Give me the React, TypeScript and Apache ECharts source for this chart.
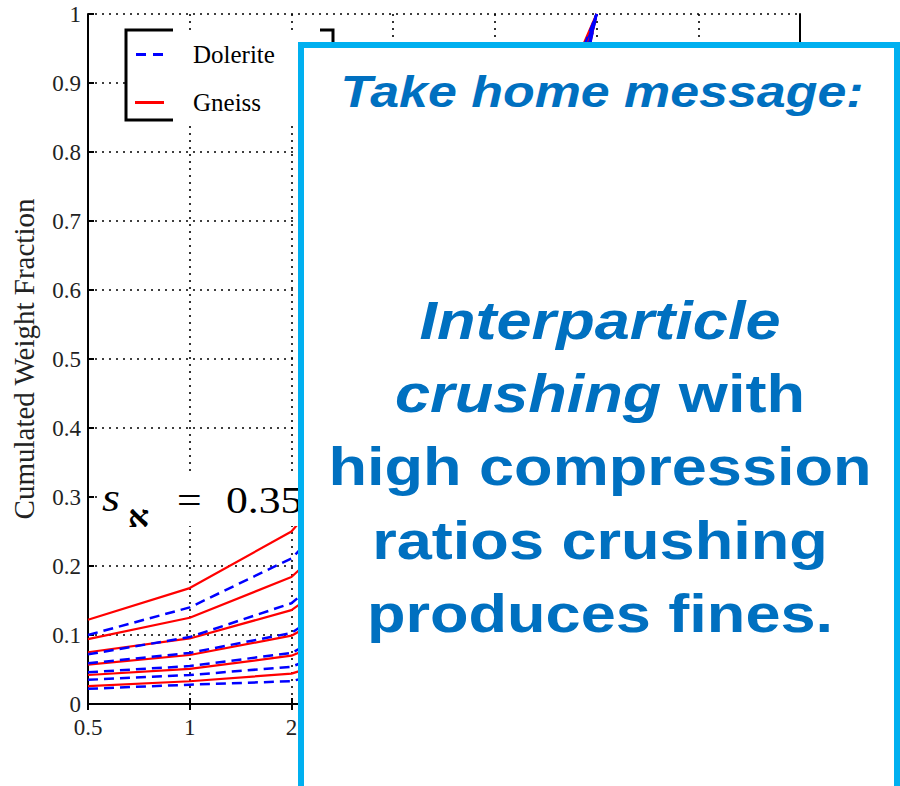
import React, { useEffect, useRef } from "react";
import * as echarts from "echarts";

const xValues = [0.5, 1, 2, 4, 8, 16];

const dolerite1 = [0.100, 0.140, 0.211, 0.36, 0.62, 1.0];
const dolerite2 = [0.072, 0.097, 0.146, 0.27, 0.55, 1.0];
const dolerite3 = [0.059, 0.074, 0.103, 0.20, 0.48, 1.0];
const dolerite4 = [0.046, 0.055, 0.074, 0.15, 0.42, 1.0];
const dolerite5 = [0.035, 0.042, 0.054, 0.11, 0.37, 1.0];
const dolerite6 = [0.022, 0.028, 0.033, 0.07, 0.32, 1.0];

const gneiss1 = [0.122, 0.168, 0.250, 0.42, 0.66, 1.0];
const gneiss2 = [0.094, 0.125, 0.184, 0.32, 0.58, 1.0];
const gneiss3 = [0.075, 0.095, 0.136, 0.24, 0.50, 1.0];
const gneiss4 = [0.057, 0.071, 0.099, 0.18, 0.44, 1.0];
const gneiss5 = [0.042, 0.051, 0.070, 0.13, 0.38, 1.0];
const gneiss6 = [0.026, 0.033, 0.044, 0.09, 0.33, 1.0];

const doleriteSets = [dolerite1, dolerite2, dolerite3, dolerite4, dolerite5, dolerite6];
const gneissSets = [gneiss1, gneiss2, gneiss3, gneiss4, gneiss5, gneiss6];

const titleLine = "Take home message:";
const messageLines = [
  "{i|Interparticle}",
  "{i|crushing} {b|with}",
  "{b|high compression}",
  "{b|ratios crushing}",
  "{b|produces fines.}",
];

const SERIF = "'Liberation Serif', 'DejaVu Serif', serif";
const SANS = "'Liberation Sans', Arial, sans-serif";
const BLUE_TEXT = "#0070C0";
const BOX_BLUE = "#00B0F0";

function fmtX(v: number) {
  const r = Math.round(v * 100) / 100;
  return String(r);
}

export default function App() {
  const ref = useRef<HTMLDivElement>(null);
  useEffect(() => {
    if (!ref.current) return;
    const chart = echarts.init(ref.current, undefined, { renderer: "svg" });

    const toData = (vals: number[]) => xValues.map((x, i) => [x, vals[i]]);

    const series: any[] = [];
    doleriteSets.forEach((vals) => {
      series.push({
        name: "Dolerite",
        type: "line",
        data: toData(vals),
        showSymbol: false,
        symbol: "none",
        lineStyle: { color: "#0000FF", width: 2.5, type: [10, 6] },
        itemStyle: { color: "#0000FF" },
        z: 3,
      });
    });
    gneissSets.forEach((vals) => {
      series.push({
        name: "Gneiss",
        type: "line",
        data: toData(vals),
        showSymbol: false,
        symbol: "none",
        lineStyle: { color: "#FF0000", width: 2.2, type: "solid" },
        itemStyle: { color: "#FF0000" },
        z: 2,
      });
    });

    const gridLine = { show: true, lineStyle: { color: "#000", width: 1.6, type: [2, 5] } };
    const axisLine = { show: true, lineStyle: { color: "#000", width: 2 } };

    const graphicEls: any[] = [
      {
        type: "polyline",
        z: 50,
        shape: { points: [[173, 30], [126, 30], [126, 120], [173, 120]] },
        style: { stroke: "#000", lineWidth: 3, fill: null },
      },
      {
        type: "polyline",
        z: 50,
        shape: { points: [[320, 30], [333, 30], [333, 120], [320, 120]] },
        style: { stroke: "#000", lineWidth: 3, fill: null },
      },
      {
        type: "rect",
        z: 20,
        shape: { x: 97, y: 476, width: 210, height: 50 },
        style: { fill: "#fff" },
      },
      {
        type: "text",
        z: 21,
        x: 102,
        y: 498,
        scaleX: 1.15,
        style: { text: "s", font: `italic 40px ${SERIF}`, fill: "#000", textAlign: "left", textVerticalAlign: "middle" },
      },
      {
        type: "text",
        z: 21,
        x: 128,
        y: 517,
        scaleX: 1.1,
        style: { text: "א", font: `bold 30px ${SERIF}`, fill: "#000", textAlign: "left", textVerticalAlign: "middle" },
      },
      {
        type: "text",
        z: 21,
        x: 177,
        y: 500,
        scaleX: 1.15,
        style: { text: "=", font: `38px ${SERIF}`, fill: "#000", textAlign: "left", textVerticalAlign: "middle" },
      },
      {
        type: "text",
        z: 21,
        x: 226,
        y: 500,
        scaleX: 1.15,
        style: { text: "0.35", font: `38px ${SERIF}`, fill: "#000", textAlign: "left", textVerticalAlign: "middle" },
      },
      {
        type: "rect",
        z: 100,
        shape: { x: 301, y: 45, width: 596, height: 800 },
        style: { fill: "#fff", stroke: BOX_BLUE, lineWidth: 6 },
      },
      {
        type: "text",
        z: 101,
        x: 602,
        y: 91,
        scaleX: 1.18,
        style: {
          text: titleLine,
          font: `italic bold 44px ${SANS}`,
          fill: BLUE_TEXT,
          textAlign: "center",
          textVerticalAlign: "middle",
        },
      },
    ];
    const lineYs = [320, 393, 466, 540, 613];
    messageLines.forEach((t, i) => {
      graphicEls.push({
        type: "text",
        z: 101,
        x: 600,
        y: lineYs[i],
        scaleX: 1.19,
        style: {
          text: t,
          textAlign: "center",
          textVerticalAlign: "middle",
          rich: {
            i: { fontFamily: SANS, fontSize: 53, fontWeight: "bold", fontStyle: "italic", fill: BLUE_TEXT, color: BLUE_TEXT },
            b: { fontFamily: SANS, fontSize: 53, fontWeight: "bold", fontStyle: "normal", fill: BLUE_TEXT, color: BLUE_TEXT },
          },
          font: `bold 53px ${SANS}`,
          fill: BLUE_TEXT,
        },
      });
    });

    chart.setOption({
      animation: false,
      backgroundColor: "#fff",
      grid: { left: 88, right: 100, top: 14, bottom: 82, containLabel: false },
      legend: {
        show: true,
        orient: "vertical",
        left: 126,
        top: 30,
        padding: [12, 60, 6, 9],
        backgroundColor: "#fff",
        itemWidth: 29,
        itemHeight: 3,
        itemGap: 23,
        itemStyle: { borderWidth: 0 },
        data: [
          { name: "Dolerite", icon: "path://M0,0h10v3h-10zM17,0h10v3h-10z" },
          { name: "Gneiss", icon: "path://M0,0h29v3h-29z" },
        ],
        textStyle: { fontFamily: SERIF, fontSize: 25, color: "#000", lineHeight: 25, padding: [0, 0, 0, 24] },
        selectedMode: false,
      },
      xAxis: [
        {
          type: "log",
          logBase: 2,
          min: 0.5,
          max: 64,
          splitNumber: 7,
          position: "bottom",
          axisLine,
          axisTick: { show: true, inside: true, length: 6, lineStyle: { color: "#000", width: 2 } },
          splitLine: gridLine,
          axisLabel: {
            formatter: (v: number) => fmtX(v),
            fontFamily: SERIF,
            fontSize: 23,
            color: "#222",
            margin: 12,
          },
        },
        {
          type: "log",
          logBase: 2,
          min: 0.5,
          max: 64,
          splitNumber: 7,
          position: "top",
          axisLine: { show: true, lineStyle: { color: "#000", width: 2 } },
          axisTick: { show: true, inside: true, length: 6, lineStyle: { color: "#000", width: 2 } },
          splitLine: { show: false },
          axisLabel: { show: false },
        },
      ],
      yAxis: [
        {
          type: "value",
          min: 0,
          max: 1,
          interval: 0.1,
          position: "left",
          name: "Cumulated Weight Fraction",
          nameLocation: "middle",
          nameGap: 50,
          nameTextStyle: { fontFamily: SERIF, fontSize: 29, color: "#222" },
          axisLine,
          axisTick: { show: true, inside: true, length: 6, lineStyle: { color: "#000", width: 2 } },
          splitLine: gridLine,
          axisLabel: {
            formatter: (v: number) => String(Math.round(v * 10) / 10),
            fontFamily: SERIF,
            fontSize: 23,
            color: "#222",
            margin: 7,
          },
        },
        {
          type: "value",
          min: 0,
          max: 1,
          interval: 0.1,
          position: "right",
          axisLine: { show: true, lineStyle: { color: "#000", width: 2 } },
          axisTick: { show: false },
          splitLine: { show: false },
          axisLabel: { show: false },
        },
      ],
      series,
      graphic: { elements: graphicEls },
    });

    return () => chart.dispose();
  }, []);

  return (
    <div
      ref={ref}
      style={{ position: "fixed", left: 0, top: 0, width: 900, height: 786, background: "#fff" }}
    />
  );
}
